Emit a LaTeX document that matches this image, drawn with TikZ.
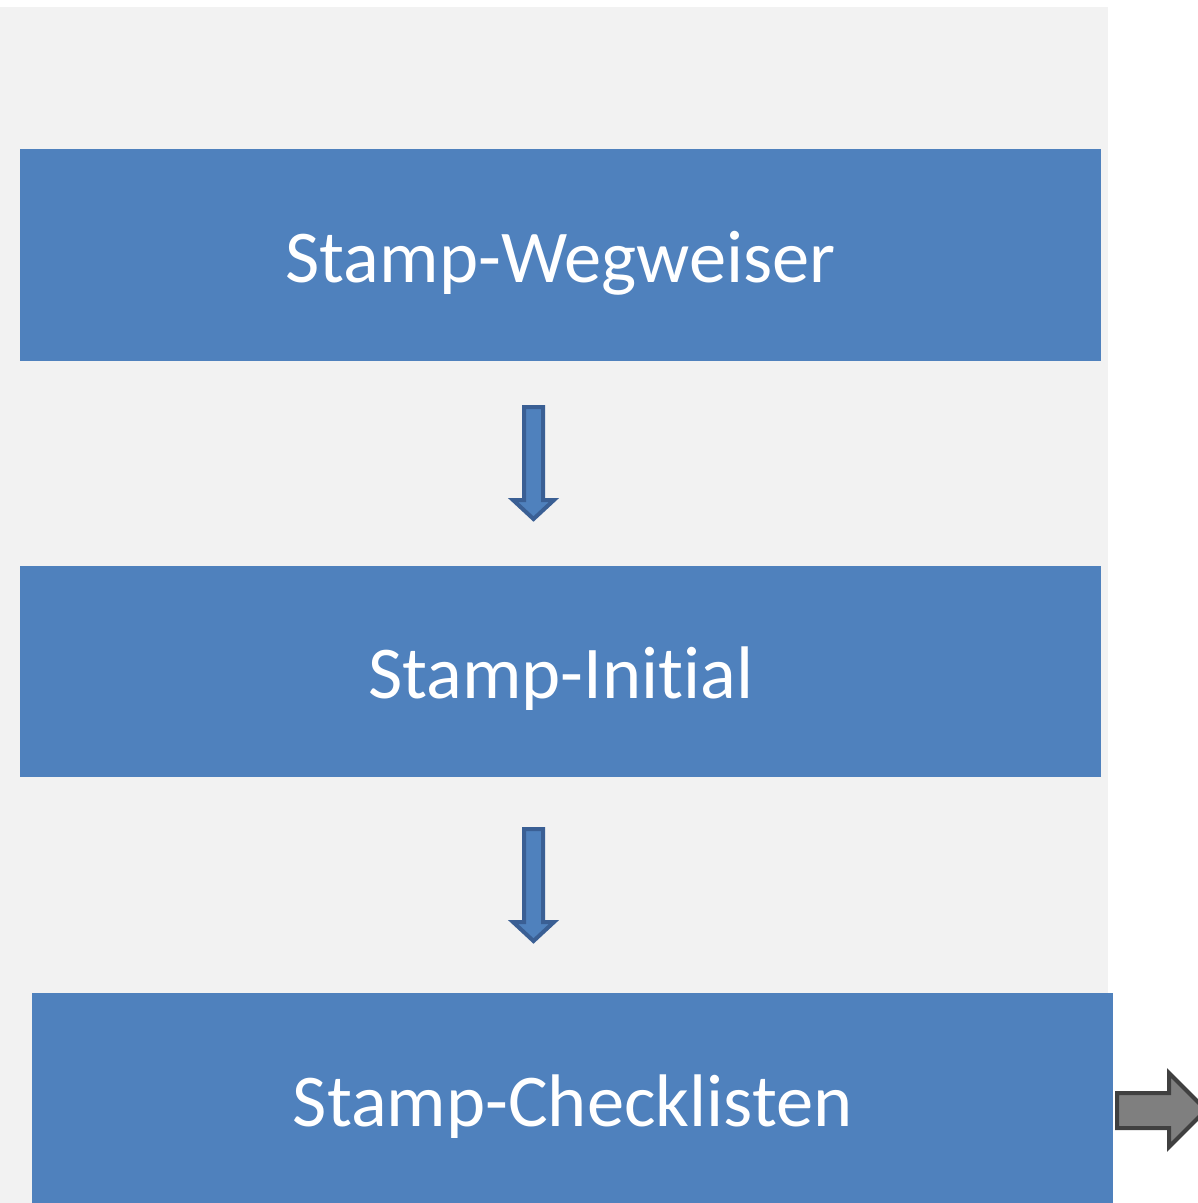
\documentclass[tikz,border=0pt]{standalone}
\usepackage{fontspec}
\setmainfont{Carlito}[Ligatures={NoCommon,NoRequired,NoContextual}]
\definecolor{panelgray}{HTML}{F2F2F2}
\definecolor{boxblue}{HTML}{4F81BD}
\definecolor{arrowedge}{HTML}{3A5F94}
\definecolor{grayfill}{HTML}{7F7F7F}
\definecolor{grayedge}{HTML}{404040}
\begin{document}
\begin{tikzpicture}[x=1pt,y=-1pt,
  stagebox/.style={rectangle, fill=boxblue, draw=none, inner sep=0pt, anchor=north west,
    minimum width=1081pt, minimum height=212pt, text=white,
    text height=54pt, text depth=0pt,
    font=\fontsize{74.5}{90}\selectfont},
  downarrow/.style={fill=boxblue, draw=arrowedge, line width=4pt, line join=miter},
  outarrow/.style={fill=grayfill, draw=grayedge, line width=4pt, line join=miter}]
\useasboundingbox (0,0) rectangle (1198,1203);
\fill[white] (0,0) rectangle (1198,1203);
\fill[panelgray] (0,7) rectangle (1108,1203);

\node[stagebox] (w) at (20,149) {Stamp-Wegweiser};
\node[stagebox, minimum height=211pt] (i) at (20,566) {Stamp-Initial};
\node[stagebox] (c) at (32,993) {Stamp-Checklisten};

% down arrow 1
\draw[downarrow] (524,407) -- (543,407) -- (543,500) -- (554,500) -- (533.5,519)
  -- (513,500) -- (524,500) -- cycle;
% down arrow 2
\draw[downarrow] (524,829) -- (543,829) -- (543,922) -- (554,922) -- (533.5,941)
  -- (513,922) -- (524,922) -- cycle;
% outgoing gray arrow
\draw[outarrow] (1117,1093) -- (1169,1093) -- (1169,1073) -- (1206,1110)
  -- (1169,1147) -- (1169,1128) -- (1117,1128) -- cycle;
\end{tikzpicture}
\end{document}
